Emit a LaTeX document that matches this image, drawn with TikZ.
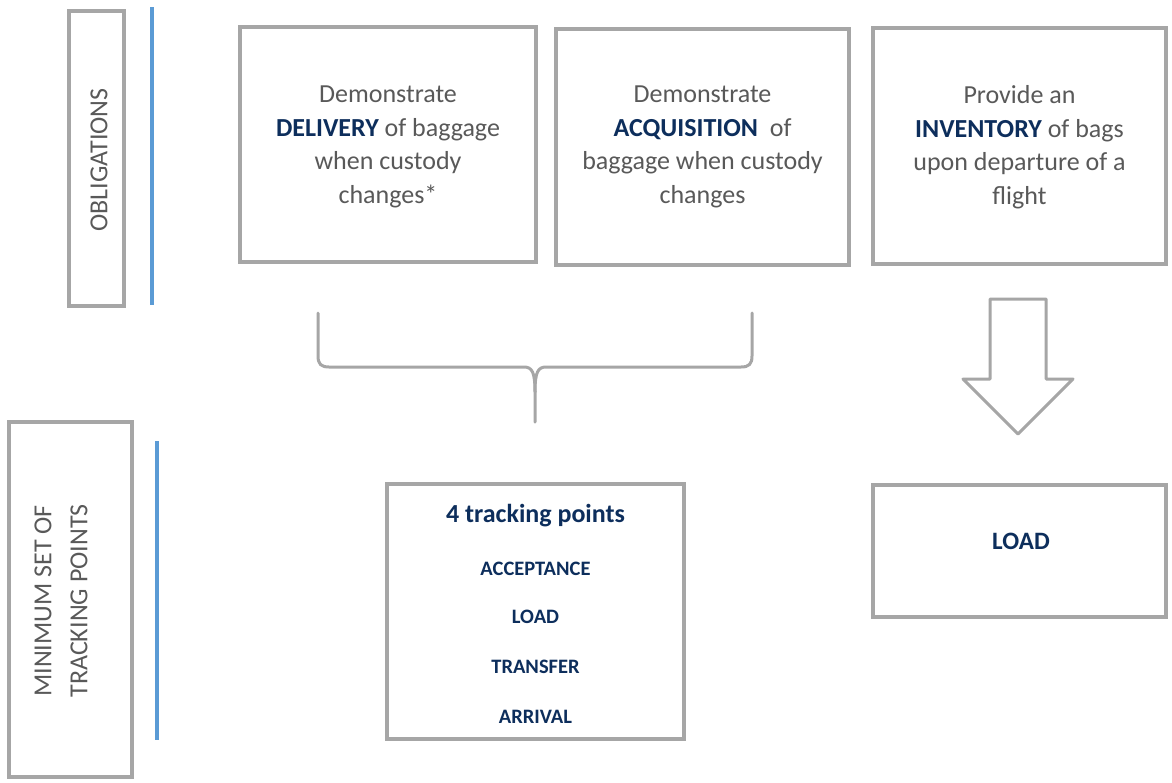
\documentclass[tikz,border=0pt]{standalone}
\usepackage{fontspec}
\setmainfont{Carlito}
\definecolor{bordergray}{HTML}{A6A6A6}
\definecolor{textgray}{HTML}{595959}
\definecolor{navy}{HTML}{0D2E5C}
\definecolor{accentblue}{HTML}{5B9BD5}
\begin{document}
\begin{tikzpicture}[x=1pt,y=-1pt,
  framebox/.style={draw=bordergray, line width=3.5pt, inner sep=0pt, fill=white},
  body/.style={font=\fontsize{26}{33.5}\selectfont, text=textgray, align=center, inner sep=0pt},
  sidelabel/.style={font=\fontsize{26}{36}\selectfont, text=textgray, align=center, inner sep=0pt, rotate=90},
  hi/.style={font=\fontsize{26}{33.5}\selectfont\bfseries, text=navy, inner sep=0pt},
  item/.style={font=\fontsize{20.5}{24}\selectfont\bfseries, text=navy, inner sep=0pt, anchor=base},
  rule/.style={draw=accentblue, line width=3.5pt},
  grayline/.style={draw=bordergray, line width=3pt, line join=round, line cap=round}]
\useasboundingbox (0,0) rectangle (1172,782);
\fill[white] (0,0) rectangle (1172,782);

% side labels
\node[framebox, minimum width=55pt, minimum height=295pt] (oblbox) at (96.5,158.5) {};
\node[sidelabel] (obl) at (99,160) {OBLIGATIONS};
\draw[rule] (152,7) -- (152,305);

\node[framebox, minimum width=123pt, minimum height=355pt] (minbox) at (70.5,599.5) {};
\node[sidelabel] (minlbl) at (61,601) {MINIMUM SET OF\\TRACKING POINTS};
\draw[rule] (157,441) -- (157,740);

% top boxes
\node[framebox, minimum width=296pt, minimum height=235pt] (deliv) at (388,144.5) {};
\node[body] (delivtxt) at (388,147) {Demonstrate\\{\bfseries\color{navy}DELIVERY} of baggage\\when custody\\changes*};

\node[framebox, minimum width=293pt, minimum height=236pt] (acq) at (702.5,147) {};
\node[body] (acqtxt) at (702.5,147) {Demonstrate\\{\bfseries\color{navy}ACQUISITION}\ \ of\\baggage when custody\\changes};

\node[framebox, minimum width=293pt, minimum height=236pt] (inv) at (1019.5,146) {};
\node[body] (invtxt) at (1019.5,147) {Provide an\\{\bfseries\color{navy}INVENTORY} of bags\\upon departure of a\\flight};

% bottom boxes
\node[framebox, minimum width=297pt, minimum height=255pt] (track) at (535.5,611.5) {};
\node[item, font=\fontsize{26}{30}\selectfont\bfseries] (t0) at (535.5,522) {4 tracking points};
\node[item] (t1) at (535.5,575) {ACCEPTANCE};
\node[item] (t2) at (535.5,623) {LOAD};
\node[item] (t3) at (535.5,673) {TRANSFER};
\node[item] (t4) at (535.5,723) {ARRIVAL};

\node[framebox, minimum width=293pt, minimum height=132pt] (load) at (1019.5,551) {};
\node[item, font=\fontsize{25}{30}\selectfont\bfseries] (loadtxt) at (1021,549) {LOAD};

% brace joining the first two obligations
\coordinate (bl) at (318,313);
\coordinate (br) at (752,313);
\coordinate (bm) at (535,422);
\draw[grayline] (bl) -- (318,356) .. controls (318,364) and (321,367) .. (329,367)
  -- (524,367) .. controls (532,367) and (535,372) .. (535,392) -- (bm);
\draw[grayline] (br) -- (752,356) .. controls (752,364) and (749,367) .. (741,367)
  -- (546,367) .. controls (538,367) and (535,372) .. (535,392);

% block arrow from inventory to load
\draw[grayline] (990,299) -- (1046,299) -- (1046,379) -- (1073,379) -- (1018,434)
  -- (963,379) -- (990,379) -- cycle;
\end{tikzpicture}
\end{document}
